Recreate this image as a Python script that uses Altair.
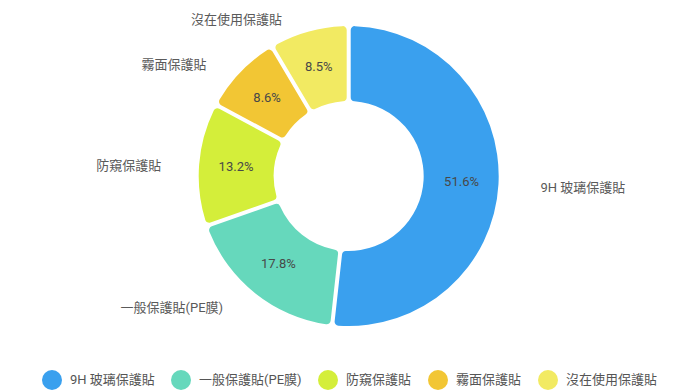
import altair as alt
import pandas as pd

categories = ["9H 玻璃保護貼", "一般保護貼(PE膜)", "防窺保護貼", "霧面保護貼", "沒在使用保護貼"]
shares = [51.6, 17.8, 13.2, 8.6, 8.5]
colors = ["#3AA0EE", "#66D8BC", "#D4EE3A", "#F2C634", "#F2EA62"]

df = pd.DataFrame({"category": categories, "value": shares, "idx": list(range(len(categories)))})

FONT = "Roboto, 'Noto Sans CJK TC', sans-serif"
CX, CY = 340.7, 168
R_OUT, R_IN = 150, 75
R_MID = 113
R_LAB = 165

base = (
    alt.Chart(df)
    .transform_window(cum="sum(value)", sort=[alt.SortField("idx")], frame=[None, 0])
    .transform_joinaggregate(total="sum(value)")
    .transform_calculate(mid="2*PI*(datum.cum - datum.value/2)/datum.total")
    .transform_calculate(
        px=f"{CX} + {R_MID}*sin(datum.mid)",
        py=f"{CY} - {R_MID}*cos(datum.mid)",
        lx=f"{CX} + {R_LAB}*sin(datum.mid)",
        ly=f"{CY} - {R_LAB}*cos(datum.mid)",
        pct="format(datum.value, '.1f') + '%'",
    )
)

arcs = alt.Chart(df).mark_arc(
    innerRadius=R_IN, outerRadius=R_OUT, padAngle=0.024, cornerRadius=4
).encode(
    theta=alt.Theta("value:Q", stack=True),
    order=alt.Order("idx:Q"),
    color=alt.Color(
        "category:N",
        scale=alt.Scale(domain=categories, range=colors),
        sort=categories,
        legend=alt.Legend(
            orient="none", legendX=34, legendY=362, direction="horizontal",
            title=None, symbolType="circle", symbolSize=400, symbolStrokeWidth=0,
            symbolOpacity=1, labelFont=FONT, labelFontSize=13, labelColor="#555555",
            labelOffset=8, columnPadding=16,
        ),
    ),
    x=alt.value(CX),
    y=alt.value(CY),
)

pct_text = base.mark_text(
    font=FONT, fontSize=13, color="#484848", align="center", baseline="middle"
).encode(
    x=alt.X("px:Q", scale=None, axis=None),
    y=alt.Y("py:Q", scale=None, axis=None),
    text="pct:N",
)

right_lab = base.transform_filter("datum.mid < PI").mark_text(
    font=FONT, fontSize=13, color="#5a5a5a", align="left", baseline="middle", dx=27, dy=3
).encode(
    x=alt.X("lx:Q", scale=None, axis=None),
    y=alt.Y("ly:Q", scale=None, axis=None),
    text="category:N",
)

left_lab = base.transform_filter("datum.mid >= PI").mark_text(
    font=FONT, fontSize=13, color="#5a5a5a", align="right", baseline="middle", dx=-23, dy=3
).encode(
    x=alt.X("lx:Q", scale=None, axis=None),
    y=alt.Y("ly:Q", scale=None, axis=None),
    text="category:N",
)

chart = (
    alt.layer(arcs, pct_text, right_lab, left_lab)
    .properties(width=684, height=384, autosize=alt.AutoSizeParams(type="none"), padding=0)
    .configure_view(stroke=None)
)

chart.save("out.html", embed_options={"renderer": "svg", "actions": False})
